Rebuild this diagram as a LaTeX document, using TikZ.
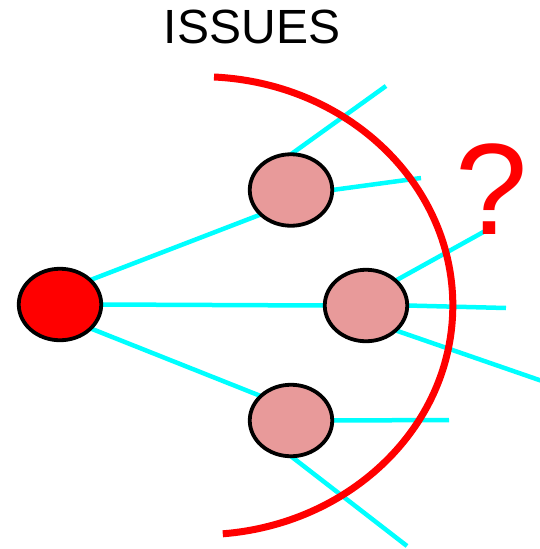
\documentclass[tikz,border=0pt]{standalone}
\usepackage{fontspec}
\setmainfont{Liberation Sans}
\usetikzlibrary{shapes.geometric,backgrounds}
\definecolor{linkcyan}{RGB}{0,255,255}
\definecolor{nodepink}{RGB}{232,154,154}
\definecolor{hotred}{RGB}{255,0,0}
\begin{document}
\begin{tikzpicture}[x=1pt,y=-1pt,
  blob/.style={ellipse,draw=black,line width=3.8pt,minimum width=82.5pt,
    minimum height=71.5pt,inner sep=0pt,outer sep=0pt},
  root/.style={blob,fill=hotred},
  issue/.style={blob,fill=nodepink},
  link/.style={draw=linkcyan,line width=4.5pt},
  horizon/.style={draw=hotred,line width=7pt},
]
\useasboundingbox (0,0) rectangle (539,549);

% source node and the three issues it leads to
\node[root]  (r) at (60,304.5) {};
\node[issue] (a) at (291,190) {};
\node[issue] (b) at (366,305.5) {};
\node[issue] (c) at (291,420.5) {};

% loose ends of the branches
\coordinate (a1) at (386,86);
\coordinate (a2) at (421,178);
\coordinate (b1) at (487,230);
\coordinate (b2) at (506,308);
\coordinate (b3) at (545,382);
\coordinate (c1) at (449,420);
\coordinate (c2) at (407,546);

\begin{pgfonlayer}{background}
  \draw[link] (r.39)  -- (a.219);
  \draw[link] (r.east) -- (b.west);
  \draw[link] (r.-38) -- (c.141);
  \draw[link] (a.north) -- (a1);
  \draw[link] (a.east)  -- (a2);
  \draw[link] (b.40)   -- (b1);
  \draw[link] (b.east) -- (b2);
  \draw[link] (b.-40)  -- (b3);
  \draw[link] (c.east)  -- (c1);
  \draw[link] (c.south) -- (c2);
\end{pgfonlayer}

% the horizon
\draw[horizon] (214,77) arc[start angle=87,end angle=-85,x radius=252pt,y radius=229pt];

\node[text=hotred,inner sep=0pt,font=\fontsize{130}{130}\selectfont] (q) at (492,189.5) {?};
\node[inner sep=0pt,font=\fontsize{48}{48}\selectfont] (t) at (252,26.5) {ISSUES};
\end{tikzpicture}
\end{document}
